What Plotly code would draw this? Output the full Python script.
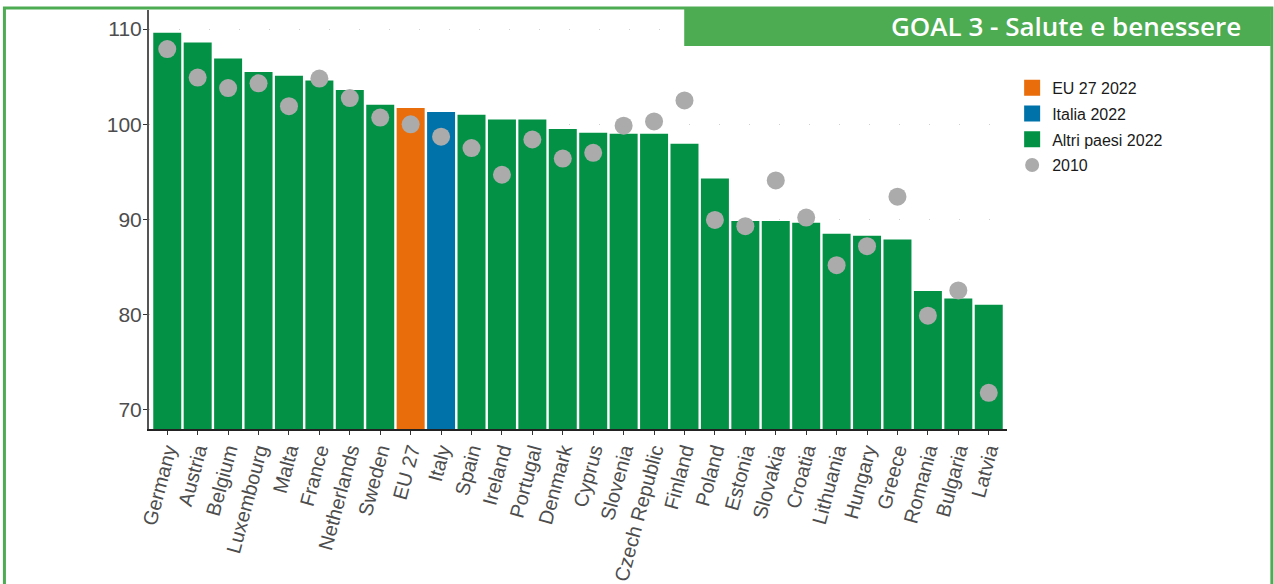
import plotly.graph_objects as go

countries = ["Germany", "Austria", "Belgium", "Luxembourg", "Malta", "France", "Netherlands",
             "Sweden", "EU 27", "Italy", "Spain", "Ireland", "Portugal", "Denmark", "Cyprus",
             "Slovenia", "Czech Republic", "Finland", "Poland", "Estonia", "Slovakia", "Croatia",
             "Lithuania", "Hungary", "Greece", "Romania", "Bulgaria", "Latvia"]
v2022 = [109.6, 108.6, 106.9, 105.5, 105.1, 104.6, 103.6, 102.05, 101.7, 101.3, 101.0, 100.5,
         100.5, 99.5, 99.1, 99.0, 99.0, 97.95, 94.3, 89.85, 89.85, 89.65, 88.5, 88.3, 87.9,
         82.5, 81.7, 81.05]
v2010 = [107.9, 104.9, 103.8, 104.3, 101.9, 104.8, 102.75, 100.7, 100.0, 98.7, 97.5, 94.7,
         98.4, 96.4, 97.0, 99.85, 100.3, 102.5, 89.95, 89.3, 94.1, 90.2, 85.2, 87.2, 92.4,
         79.9, 82.55, 71.8]

groups = {"EU 27 2022": "#E96D0B", "Italia 2022": "#0072AA", "Altri paesi 2022": "#039245"}
green_frame = "#4DAB52"


def group_of(c):
    if c == "EU 27":
        return "EU 27 2022"
    if c == "Italy":
        return "Italia 2022"
    return "Altri paesi 2022"


fig = go.Figure()
for g, col in groups.items():
    xs = [c for c in countries if group_of(c) == g]
    ys = [v for c, v in zip(countries, v2022) if group_of(c) == g]
    fig.add_trace(go.Bar(x=xs, y=ys, marker=dict(color=col, line=dict(width=0)),
                         showlegend=False, name=g))

fig.add_trace(go.Scatter(x=countries, y=v2010, mode="markers", showlegend=False, name="2010",
                         marker=dict(color="#ABABAB", size=18)))

# legend entries (bigger square keys than the bar defaults)
for g, col in groups.items():
    fig.add_trace(go.Scatter(x=[None], y=[None], mode="markers", name=g, legendgroup=g,
                             marker=dict(symbol="square", size=22, color=col)))
fig.add_trace(go.Scatter(x=[None], y=[None], mode="markers", name="2010", legendgroup="2010",
                         marker=dict(symbol="circle", size=14, color="#ABABAB")))

fig.update_layout(
    width=1274, height=584,
    margin=dict(l=149, r=267, t=10, b=155, autoexpand=False),
    paper_bgcolor="white", plot_bgcolor="white",
    barmode="overlay", bargap=0.08,
    font=dict(family="Liberation Sans, Arial, sans-serif", color="#4D4D4D"),
    legend=dict(x=1.006, y=0.855, xanchor="left", yanchor="top", itemsizing="trace",
                font=dict(size=16, color="#1A1A1A"), tracegroupgap=2,
                bgcolor="rgba(0,0,0,0)"),
    xaxis=dict(type="category", categoryorder="array", categoryarray=countries,
               range=[-0.6, len(countries) - 0.4], tickangle=-75,
               tickfont=dict(size=20, color="#4D4D4D"), showline=True, linecolor="#222222",
               linewidth=1.5, ticks="outside", ticklen=4, tickcolor="#333333",
               ticklabelstandoff=-4, showgrid=False, automargin=False),
    yaxis=dict(range=[68, 112], tickvals=[70, 80, 90, 100, 110],
               tickfont=dict(size=21, color="#4D4D4D"), showline=True, linecolor="#555555",
               linewidth=2, ticks="outside", ticklen=4, tickcolor="#333333",
               ticklabelstandoff=-3,
               showgrid=True, gridcolor="#D0D0D0", gridwidth=1, griddash="1px,29px",
               zeroline=False, automargin=False),
)

# outer frame and header band
fig.add_shape(type="rect", xref="paper", yref="paper", x0=-0.1685, x1=1.3087, y0=-0.42, y1=1.0048,
              line=dict(color=green_frame, width=3), fillcolor="rgba(0,0,0,0)", layer="above")
fig.add_shape(type="rect", xref="paper", yref="paper", x0=0.6238, x1=1.3075, y0=0.9141, y1=1.0048,
              line=dict(width=0), fillcolor=green_frame, layer="above")
fig.add_annotation(text="GOAL 3 - Salute e benessere", xref="paper", yref="paper",
                   x=1.2755, y=0.962, xanchor="right", yanchor="middle", showarrow=False,
                   font=dict(family="Open Sans, sans-serif", size=26, color="white", weight=600))

fig.write_html("out.html", config={"displayModeBar": False},
               post_script="document.body.style.margin='0';")
